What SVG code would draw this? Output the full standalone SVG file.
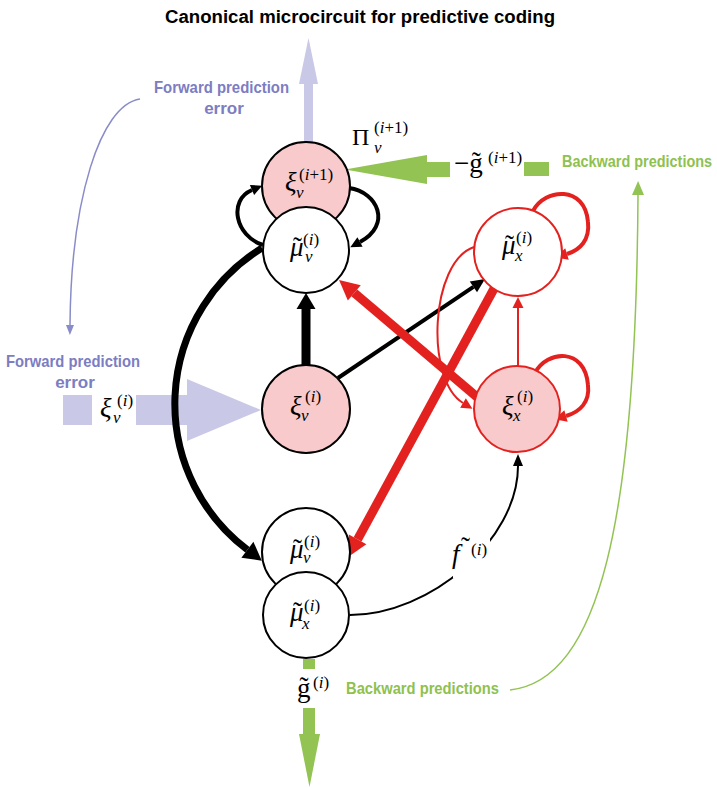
<svg xmlns="http://www.w3.org/2000/svg" width="717" height="788" viewBox="0 0 717 788">
<defs>
<style>
.title{font-family:"Liberation Sans Narrow","Liberation Sans",Arial,sans-serif;font-weight:bold;font-size:18px;fill:#000}
.lab{font-family:"Liberation Sans Narrow","Liberation Sans",Arial,sans-serif;font-weight:bold;font-size:17px}
.lav{fill:#7c7dc2}
.grn{fill:#8fc14e}
.m{font-family:"Liberation Serif","Times New Roman",serif;font-size:27px;fill:#000}
.i{font-style:italic}
.s{font-size:17px}
.nb{fill:#fff;stroke:#000;stroke-width:2}
.pb{fill:#f8cacb;stroke:#000;stroke-width:2}
.nr{fill:#fff;stroke:#e3221f;stroke-width:2}
.pr{fill:#f8cacb;stroke:#e3221f;stroke-width:2}
.k{fill:none;stroke:#000}
.r{fill:none;stroke:#e3221f}
.flav{fill:#c9c8e6}
.fgrn{fill:#92c353}
.mk{overflow:visible}
</style>
<marker id="kL" class="mk" markerUnits="userSpaceOnUse" orient="auto" refX="0" refY="0" markerWidth="20" markerHeight="20"><path d="M0,-9.5 L16,0 L0,9.5 Z" fill="#000"/></marker>
<marker id="kA" class="mk" markerUnits="userSpaceOnUse" orient="auto" refX="0" refY="0" markerWidth="20" markerHeight="20"><path d="M0,-10 L18,0 L0,10 Z" fill="#000"/></marker>
<marker id="kM" class="mk" markerUnits="userSpaceOnUse" orient="auto" refX="0" refY="0" markerWidth="20" markerHeight="20"><path d="M0,-6.5 L14,0 L0,6.5 Z" fill="#000"/></marker>
<marker id="kS" class="mk" markerUnits="userSpaceOnUse" orient="auto" refX="0" refY="0" markerWidth="20" markerHeight="20"><path d="M0,-5.5 L11,0 L0,5.5 Z" fill="#000"/></marker>
<marker id="kT" class="mk" markerUnits="userSpaceOnUse" orient="auto" refX="0" refY="0" markerWidth="20" markerHeight="20"><path d="M0,-5 L12,0 L0,5 Z" fill="#000"/></marker>
<marker id="rL" class="mk" markerUnits="userSpaceOnUse" orient="auto" refX="0" refY="0" markerWidth="20" markerHeight="20"><path d="M0,-10 L20,0 L0,10 Z" fill="#e3221f"/></marker>
<marker id="rS" class="mk" markerUnits="userSpaceOnUse" orient="auto" refX="0" refY="0" markerWidth="20" markerHeight="20"><path d="M0,-6 L12,0 L0,6 Z" fill="#e3221f"/></marker>
<marker id="rT" class="mk" markerUnits="userSpaceOnUse" orient="auto" refX="0" refY="0" markerWidth="20" markerHeight="20"><path d="M0,-5.5 L11,0 L0,5.5 Z" fill="#e3221f"/></marker>
<marker id="mLav" class="mk" markerUnits="userSpaceOnUse" orient="auto" refX="0" refY="0" markerWidth="20" markerHeight="20"><path d="M0,-4 L10,0 L0,4 Z" fill="#8a8cc9"/></marker>
<marker id="mGrn" class="mk" markerUnits="userSpaceOnUse" orient="auto" refX="0" refY="0" markerWidth="20" markerHeight="20"><path d="M0,-6 L14,0 L0,6 Z" fill="#92c353"/></marker>
</defs>
<rect width="717" height="788" fill="#fff"/>

<text id="title" class="title" x="360" y="23" text-anchor="middle" textLength="390" lengthAdjust="spacingAndGlyphs">Canonical microcircuit for predictive coding</text>

<g id="flows">
<rect class="flav" x="304" y="82" width="9" height="72"/>
<polygon class="flav" points="299,84 318,84 308.5,38"/>
<rect class="flav" x="63" y="395" width="29" height="30"/>
<rect class="flav" x="136" y="395" width="52" height="30"/>
<polygon class="flav" points="187,379 187,441 261,410"/>
<rect class="fgrn" x="524" y="162" width="25" height="14"/>
<rect class="fgrn" x="425" y="162" width="25" height="15"/>
<polygon class="fgrn" points="427,155 427,184 345,169.5"/>
<rect class="fgrn" x="303" y="659" width="12" height="10"/>
<rect class="fgrn" x="303" y="708" width="12" height="27"/>
<polygon class="fgrn" points="299,734 320,734 309.5,787"/>
</g>

<g id="connectors">
<path d="M140,99 C100,105 71,200 70,325" fill="none" stroke="#8a8cc9" stroke-width="1.5" marker-end="url(#mLav)"/>
<path d="M510,690 C600,680 636,520 638,195" fill="none" stroke="#92c353" stroke-width="1.5" marker-end="url(#mGrn)"/>
<path class="k" d="M262,248 A183,183 0 0 0 247.4,549.8" stroke-width="7" marker-end="url(#kA)"/>
<path class="k" d="M306,366 L306,309" stroke-width="9" marker-end="url(#kL)"/>
<path class="k" d="M338,378 L473.4,286.8" stroke-width="4" marker-end="url(#kM)"/>
<path class="k" d="M263,245 C235,236 228,200 252,190" stroke-width="4" marker-end="url(#kS)"/>
<path class="k" d="M349,188 C378,192 392,225 360,242" stroke-width="4" marker-end="url(#kS)"/>
<path class="k" d="M350,615 C430,615 518,540 518,466" stroke-width="2" marker-end="url(#kT)"/>
<path class="r" d="M477,397 L354.3,292.9" stroke-width="9" marker-end="url(#rL)"/>
<path class="r" d="M496,285 L357.6,539.4" stroke-width="9" marker-end="url(#rL)"/>
<path class="r" d="M474,247 C430,262 425,380 463,403" stroke-width="2" marker-end="url(#rT)"/>
<path class="r" d="M518,366 L518,308" stroke-width="2" marker-end="url(#rT)"/>
<path class="r" d="M533,211 C545,188 585,185 588,222 C590,240 580,250 567,254" stroke-width="4" marker-end="url(#rS)"/>
<path class="r" d="M535,373 C547,350 585,347 588,385 C590,402 580,412 566,416" stroke-width="4" marker-end="url(#rS)"/>
</g>

<g id="node-xi-v-i1">
<circle class="pb" cx="306" cy="186" r="44"/>
<text class="m"><tspan class="i" x="285" y="191">ξ</tspan><tspan class="s" x="299" y="180">(<tspan class="i">i</tspan>+1)</tspan><tspan class="s i" x="296" y="198">v</tspan></text>
</g>
<g id="node-mu-v-top">
<circle class="nb" cx="306" cy="250" r="43"/>
<text class="m"><tspan class="i" x="290" y="256">μ</tspan><tspan x="293" y="256">˜</tspan><tspan class="s" x="303" y="245">(<tspan class="i">i</tspan>)</tspan><tspan class="s i" x="305" y="262">v</tspan></text>
</g>
<g id="node-xi-v">
<circle class="pb" cx="306" cy="409" r="44"/>
<text class="m"><tspan class="i" x="290" y="415">ξ</tspan><tspan class="s" x="305" y="402">(<tspan class="i">i</tspan>)</tspan><tspan class="s i" x="301" y="421">v</tspan></text>
</g>
<g id="node-mu-v-bottom">
<circle class="nb" cx="306" cy="552" r="44"/>
<text class="m"><tspan class="i" x="290" y="558">μ</tspan><tspan x="293" y="558">˜</tspan><tspan class="s" x="304" y="547">(<tspan class="i">i</tspan>)</tspan><tspan class="s i" x="303" y="563">v</tspan></text>
</g>
<g id="node-mu-x-bottom">
<circle class="nb" cx="306" cy="615" r="43"/>
<text class="m"><tspan class="i" x="290" y="621">μ</tspan><tspan x="293" y="621">˜</tspan><tspan class="s" x="304" y="611">(<tspan class="i">i</tspan>)</tspan><tspan class="s i" x="302" y="629">x</tspan></text>
</g>
<g id="node-mu-x-right">
<circle class="nr" cx="518" cy="252" r="44"/>
<text class="m"><tspan class="i" x="502" y="254">μ</tspan><tspan x="505" y="254">˜</tspan><tspan class="s" x="516" y="243">(<tspan class="i">i</tspan>)</tspan><tspan class="s i" x="515" y="261">x</tspan></text>
</g>
<g id="node-xi-x">
<circle class="pr" cx="517" cy="409" r="43"/>
<text class="m"><tspan class="i" x="502" y="415">ξ</tspan><tspan class="s" x="517" y="402">(<tspan class="i">i</tspan>)</tspan><tspan class="s i" x="513" y="421">x</tspan></text>
</g>

<g id="labels">
<text class="lab lav" x="154" y="93" textLength="135" lengthAdjust="spacingAndGlyphs">Forward prediction</text>
<text class="lab lav" x="224" y="114" text-anchor="middle">error</text>
<text class="lab lav" x="6" y="367" textLength="134" lengthAdjust="spacingAndGlyphs">Forward prediction</text>
<text class="lab lav" x="75" y="388" text-anchor="middle">error</text>
<text class="lab grn" transform="translate(562,167) scale(0.85,1)" x="0" y="0">Backward predictions</text>
<text class="lab grn" x="346" y="694" textLength="153" lengthAdjust="spacingAndGlyphs">Backward predictions</text>

<text class="m"><tspan x="352" y="145" style="font-size:24px">Π</tspan><tspan class="s" x="374" y="133">(<tspan class="i">i</tspan>+1)</tspan><tspan class="s i" x="374" y="153">v</tspan></text>

<text class="m"><tspan x="454" y="172">−g̃</tspan><tspan class="s" x="488" y="163">(<tspan class="i">i</tspan>+1)</tspan></text>

<text class="m"><tspan class="i" x="100" y="417">ξ</tspan><tspan class="s" x="117" y="406">(<tspan class="i">i</tspan>)</tspan><tspan class="s i" x="113" y="423">v</tspan></text>

<text class="m"><tspan x="297" y="697">g̃</tspan><tspan class="s" x="313" y="688">(<tspan class="i">i</tspan>)</tspan></text>

<rect x="453" y="530" width="37" height="48" fill="#fff"/>
<text class="m"><tspan class="i" x="452" y="563">f</tspan><tspan x="461" y="556">˜</tspan><tspan class="s" x="471" y="555">(<tspan class="i">i</tspan>)</tspan></text>
</g>
</svg>
